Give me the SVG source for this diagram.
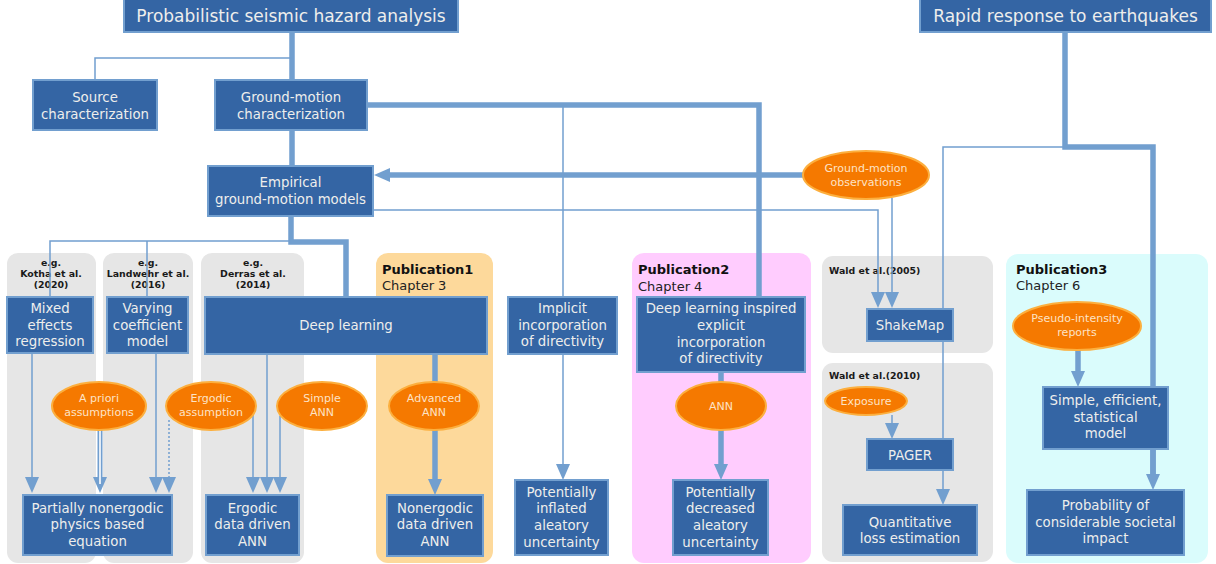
<svg xmlns="http://www.w3.org/2000/svg" width="1216" height="564" viewBox="0 0 1216 564">
<style>
text{font-family:"DejaVu Sans","Liberation Sans",sans-serif}
.box{fill:#3465a4;stroke:#729fcf;stroke-width:2}
.bt{fill:#eeeeec;font-size:13.3px;text-anchor:middle}
.tt{fill:#eeeeec;font-size:17px;text-anchor:middle}
.ell{fill:#f57900;stroke:#fcaf3e;stroke-width:2}
.et{fill:#fde3c6;font-size:11px;text-anchor:middle}
.gp{fill:#e6e6e6}
.pl{fill:#1a1a1a;font-size:9.4px;font-weight:bold}
.plc{fill:#1a1a1a;font-size:9.4px;font-weight:bold;text-anchor:middle}
.pub{fill:#111;font-size:13px;font-weight:bold}
.ch{fill:#222;font-size:13px}
.th{fill:none;stroke:#729fcf;stroke-width:5.5}
.tn{fill:none;stroke:#729fcf;stroke-width:1.5}
.ar{marker-end:url(#ah)}
</style>
<defs>
<marker id="ah" markerUnits="userSpaceOnUse" viewBox="0 0 16 14" markerWidth="16" markerHeight="14" refX="8" refY="7" orient="auto">
<path d="M0,0 L16,7 L0,14 z" fill="#729fcf"/>
</marker>
</defs>
<rect width="1216" height="564" fill="#ffffff"/>

<g id="panels">
<rect class="gp" x="7" y="253" width="89" height="310" rx="11"/>
<rect class="gp" x="103" y="253" width="90" height="310" rx="11"/>
<rect class="gp" x="201" y="253" width="103" height="310" rx="11"/>
<rect x="376" y="253" width="117" height="310" rx="12" fill="#fdd99b"/>
<rect x="632" y="253" width="179" height="310" rx="12" fill="#ffccfe"/>
<rect class="gp" x="822" y="256" width="171" height="97" rx="11"/>
<rect class="gp" x="822" y="363" width="171" height="199" rx="11"/>
<rect x="1006" y="254" width="202" height="309" rx="12" fill="#dafcfc"/>
<text class="plc" x="51" y="266">e.g.</text>
<text class="plc" x="51" y="277">Kotha et al.</text>
<text class="plc" x="51" y="288">(2020)</text>
<text class="plc" x="148" y="266">e.g.</text>
<text class="plc" x="148" y="277">Landwehr et al.</text>
<text class="plc" x="148" y="288">(2016)</text>
<text class="plc" x="253" y="266">e.g.</text>
<text class="plc" x="253" y="277">Derras et al.</text>
<text class="plc" x="253" y="288">(2014)</text>
<text class="pub" x="382" y="274">Publication1</text>
<text class="ch" x="382" y="290">Chapter 3</text>
<text class="pub" x="638" y="274">Publication2</text>
<text class="ch" x="638" y="291">Chapter 4</text>
<text class="pub" x="1016" y="274">Publication3</text>
<text class="ch" x="1016" y="290">Chapter 6</text>
<text class="pl" x="829" y="274">Wald et al.(2005)</text>
<text class="pl" x="829" y="379">Wald et al.(2010)</text>
</g>

<g id="connectors">
<path class="th" d="M292,32 V80 M292,130 V166"/>
<path class="tn" d="M292,58 H95 V80"/>
<path class="th" d="M291,216 V242 H346 V297"/>
<path class="tn" d="M291,241 H50 V297 M147,241 V297"/>
<path class="th" d="M367,105 H759 V297"/>
<path class="tn ar" d="M563,105 V472"/>
<path class="th ar" d="M803,175 H382"/>
<path class="tn ar" d="M373,210 H878 V300"/>
<path class="tn ar" d="M892,198 V300"/>
<path class="th" d="M1065,32 V147 H1153 V482"/>
<path class="th ar" d="M1153,449 V482"/>
<path class="tn ar" d="M1065,147 H943 V497"/>
<path class="tn ar" d="M892,415 V431"/>
<path class="th ar" d="M1078,350 V379"/>
<path class="th" d="M721,372 V382"/>
<path class="th ar" d="M721,430 V472"/>
<path class="th" d="M435,354 V382"/>
<path class="th ar" d="M435,430 V487"/>
<path class="tn ar" d="M32,353 V485"/>
<path fill="none" stroke="#729fcf" stroke-width="5" class="ar" d="M100,430 V485"/>
<path fill="none" stroke="#ffffff" stroke-width="1.6" d="M100,430 V484"/>
<path class="tn ar" d="M156,353 V485"/>
<path class="tn ar" stroke-dasharray="2,2" d="M169,420 V485"/>
<path class="tn ar" d="M253,414 V485"/>
<path class="tn ar" d="M267,354 V485"/>
<path class="tn ar" d="M280,416 V485"/>
</g>

<g id="n-psha"><rect class="box" x="124" y="-2" width="334" height="34"/><text class="tt" x="291" y="22">Probabilistic seismic hazard analysis</text></g>
<g id="n-rapid"><rect class="box" x="920" y="-2" width="291" height="34"/><text class="tt" x="1065.5" y="22">Rapid response to earthquakes</text></g>
<g id="n-source"><rect class="box" x="33" y="80" width="124" height="50"/><text class="bt" x="95" y="102">Source</text><text class="bt" x="95" y="119">characterization</text></g>
<g id="n-gmc"><rect class="box" x="215" y="80" width="152" height="50"/><text class="bt" x="291" y="102">Ground-motion</text><text class="bt" x="291" y="119">characterization</text></g>
<g id="n-gmm"><rect class="box" x="208" y="166" width="165" height="50"/><text class="bt" x="290.5" y="187">Empirical</text><text class="bt" x="290.5" y="204">ground-motion models</text></g>
<g id="n-mixed"><rect class="box" x="7" y="297" width="86" height="56"/><text class="bt" x="50" y="313">Mixed</text><text class="bt" x="50" y="330">effects</text><text class="bt" x="50" y="346">regression</text></g>
<g id="n-varying"><rect class="box" x="107" y="297" width="81" height="56"/><text class="bt" x="147.5" y="313">Varying</text><text class="bt" x="147.5" y="330">coefficient</text><text class="bt" x="147.5" y="346">model</text></g>
<g id="n-deep"><rect class="box" x="205" y="297" width="282" height="57"/><text class="bt" x="346" y="330">Deep learning</text></g>
<g id="n-implicit"><rect class="box" x="508" y="297" width="109" height="57"/><text class="bt" x="562.5" y="313">Implicit</text><text class="bt" x="562.5" y="330">incorporation</text><text class="bt" x="562.5" y="346">of directivity</text></g>
<g id="n-dlexplicit"><rect class="box" x="637" y="297" width="168" height="75"/><text class="bt" x="721" y="313">Deep learning inspired</text><text class="bt" x="721" y="330">explicit</text><text class="bt" x="721" y="347">incorporation</text><text class="bt" x="721" y="363">of directivity</text></g>
<g id="n-shakemap"><rect class="box" x="867" y="309" width="86" height="32"/><text class="bt" x="910" y="330">ShakeMap</text></g>
<g id="n-pager"><rect class="box" x="867" y="439" width="86" height="31"/><text class="bt" x="910" y="460">PAGER</text></g>
<g id="n-simple"><rect class="box" x="1043" y="387" width="125" height="62"/><text class="bt" x="1105.5" y="405">Simple, efficient,</text><text class="bt" x="1105.5" y="422">statistical</text><text class="bt" x="1105.5" y="438">model</text></g>
<g id="n-partial"><rect class="box" x="23" y="495" width="149" height="60"/><text class="bt" x="97.5" y="513">Partially nonergodic</text><text class="bt" x="97.5" y="529">physics based</text><text class="bt" x="97.5" y="546">equation</text></g>
<g id="n-ergann"><rect class="box" x="206" y="495" width="93" height="60"/><text class="bt" x="252.5" y="513">Ergodic</text><text class="bt" x="252.5" y="529">data driven</text><text class="bt" x="252.5" y="546">ANN</text></g>
<g id="n-nonergann"><rect class="box" x="387" y="495" width="96" height="61"/><text class="bt" x="435" y="513">Nonergodic</text><text class="bt" x="435" y="529">data driven</text><text class="bt" x="435" y="546">ANN</text></g>
<g id="n-inflated"><rect class="box" x="515" y="480" width="93" height="75"/><text class="bt" x="561.5" y="497">Potentially</text><text class="bt" x="561.5" y="513">inflated</text><text class="bt" x="561.5" y="530">aleatory</text><text class="bt" x="561.5" y="547">uncertainty</text></g>
<g id="n-decreased"><rect class="box" x="673" y="480" width="95" height="75"/><text class="bt" x="720.5" y="497">Potentially</text><text class="bt" x="720.5" y="513">decreased</text><text class="bt" x="720.5" y="530">aleatory</text><text class="bt" x="720.5" y="547">uncertainty</text></g>
<g id="n-loss"><rect class="box" x="843" y="505" width="134" height="50"/><text class="bt" x="910" y="527">Quantitative</text><text class="bt" x="910" y="543">loss estimation</text></g>
<g id="n-prob"><rect class="box" x="1027" y="490" width="157" height="65"/><text class="bt" x="1105.5" y="510">Probability of</text><text class="bt" x="1105.5" y="527">considerable societal</text><text class="bt" x="1105.5" y="543">impact</text></g>

<g id="e-obs"><ellipse class="ell" cx="866" cy="175" rx="63" ry="24"/><text class="et" x="866" y="172">Ground-motion</text><text class="et" x="866" y="186">observations</text></g>
<g id="e-apriori"><ellipse class="ell" cx="99" cy="406" rx="47" ry="24"/><text class="et" x="99" y="402">A priori</text><text class="et" x="99" y="416">assumptions</text></g>
<g id="e-ergodic"><ellipse class="ell" cx="211" cy="406" rx="45" ry="24"/><text class="et" x="211" y="402">Ergodic</text><text class="et" x="211" y="416">assumption</text></g>
<g id="e-simple"><ellipse class="ell" cx="322" cy="406" rx="45" ry="24"/><text class="et" x="322" y="402">Simple</text><text class="et" x="322" y="416">ANN</text></g>
<g id="e-advanced"><ellipse class="ell" cx="434" cy="406" rx="45" ry="24"/><text class="et" x="434" y="402">Advanced</text><text class="et" x="434" y="416">ANN</text></g>
<g id="e-ann"><ellipse class="ell" cx="721" cy="406" rx="45" ry="24"/><text class="et" x="721" y="410">ANN</text></g>
<g id="e-exposure"><ellipse class="ell" cx="866" cy="401" rx="41" ry="14"/><text class="et" x="866" y="405">Exposure</text></g>
<g id="e-pseudo"><ellipse class="ell" cx="1077" cy="326" rx="64" ry="24"/><text class="et" x="1077" y="322">Pseudo-intensity</text><text class="et" x="1077" y="336">reports</text></g>
</svg>
